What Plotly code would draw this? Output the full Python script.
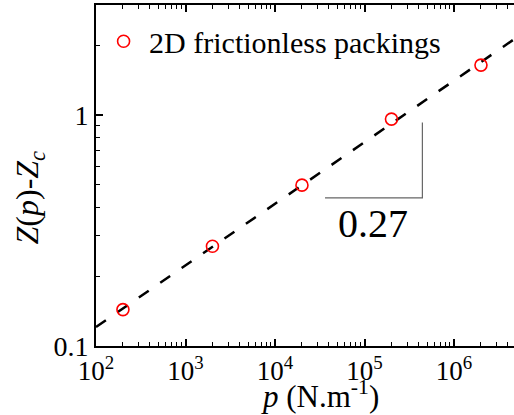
import math
import plotly.graph_objects as go

# data
p_vals = [2e2, 2e3, 2e4, 2e5, 2e6]
z_vals = [0.1438, 0.2705, 0.4975, 0.961, 1.647]
series_name = "2D frictionless packings"

# power-law fit line (slope 0.27)
fit_p = [1e2, 1e7]
fit_z = [0.1208, 2.61]

# slope triangle
tri_p = [3.62e4, 4.43e5, 4.43e5]
tri_z = [0.438, 0.438, 0.929]
slope_text = "0.27"
slope_p = 1.245e5
slope_z = 0.34

x_title = "<i>p</i> (N.m<sup>-1</sup>)"
y_title = "<i>Z</i>(<i>p</i>)-<i>Z</i><sub><i>c</i></sub>"

x_tickvals = [1e2, 1e3, 1e4, 1e5, 1e6]
x_ticktext = ["10<sup>2</sup>", "10<sup>3</sup>", "10<sup>4</sup>", "10<sup>5</sup>", "10<sup>6</sup>"]
y_tickvals = [0.1, 1]
y_ticktext = ["0.1", "1"]
x_minor = [k * 10 ** e for e in range(2, 7) for k in range(2, 10)]
y_minor = [k * 0.1 for k in range(2, 10)] + [2, 3]

FONT = "Liberation Serif"

fig = go.Figure()
fig.add_trace(go.Scatter(x=fit_p, y=fit_z, mode="lines",
                         line=dict(color="black", width=2.5, dash="12px,14px"),
                         showlegend=False, hoverinfo="skip"))
fig.add_trace(go.Scatter(x=tri_p, y=tri_z, mode="lines",
                         line=dict(color="#666666", width=1.2),
                         showlegend=False, hoverinfo="skip"))
fig.add_trace(go.Scatter(x=p_vals, y=z_vals, mode="markers", name=series_name,
                         marker=dict(symbol="circle-open", size=12, color="red",
                                     line=dict(width=1.6, color="red"))))

# annotations on log axes take log10 coordinates
fig.add_annotation(x=math.log10(slope_p), y=math.log10(slope_z), xref="x", yref="y",
                   text=slope_text, showarrow=False,
                   font=dict(family=FONT, size=40, color="black"))
fig.add_annotation(x=0.536, y=-0.078, xref="paper", yref="paper",
                   text=x_title, showarrow=False, xanchor="center", yanchor="top",
                   font=dict(family=FONT, size=31, color="black"))
fig.add_annotation(x=-0.158, y=0.5, yshift=-22, xref="paper", yref="paper", textangle=-90,
                   text=y_title, showarrow=False, xanchor="center", yanchor="middle",
                   font=dict(family=FONT, size=32, color="black"))

fig.update_xaxes(type="log", range=[2, 6.67], tickmode="array", tickvals=x_tickvals,
                 ticktext=x_ticktext, ticks="inside", ticklen=7, tickwidth=1.5,
                 tickcolor="black", showline=True, linecolor="black", linewidth=2,
                 mirror="ticks", showgrid=False, zeroline=False,
                 tickfont=dict(family=FONT, size=27, color="black"),
                 minor=dict(tickmode="array", tickvals=x_minor, ticks="inside",
                            ticklen=4, tickwidth=1.2, tickcolor="black", showgrid=False))
fig.update_yaxes(type="log", range=[-1, 0.477], tickmode="array", tickvals=y_tickvals,
                 ticktext=y_ticktext, ticks="inside", ticklen=7, tickwidth=1.5,
                 tickcolor="black", showline=True, linecolor="black", linewidth=2,
                 mirror=False, showgrid=False, zeroline=False,
                 tickfont=dict(family=FONT, size=28, color="black"),
                 minor=dict(tickmode="array", tickvals=y_minor, ticks="inside",
                            ticklen=4, tickwidth=1.2, tickcolor="black", showgrid=False))

fig.update_layout(width=514, height=415, margin=dict(l=96, r=0, t=5, b=69),
                  paper_bgcolor="white", plot_bgcolor="white",
                  font=dict(family=FONT, color="black"),
                  legend=dict(x=0.005, y=0.97, xanchor="left", yanchor="top",
                              bgcolor="rgba(0,0,0,0)", itemwidth=41,
                              font=dict(family=FONT, size=30, color="black")))

fig.write_html("out.html", config={"displayModeBar": False},
               post_script="document.body.style.margin='0';")
